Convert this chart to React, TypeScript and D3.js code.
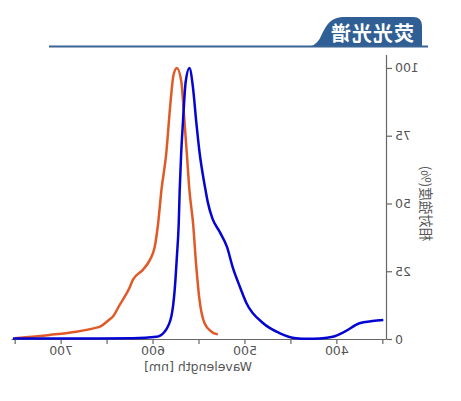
import { useEffect, useRef } from 'react';
import * as d3 from 'd3';

const width = 461;
const height = 401;

// wavelength [nm] and relative intensity [%]
const blueWave = [350, 362, 376, 392, 405, 419, 432, 445, 463, 481, 499, 506, 514, 520, 528, 536, 541, 544, 550, 553.5, 557, 561, 565, 568, 570, 571.6, 572.6, 574.6, 577, 580.7, 588, 597, 623, 660, 700, 753];
const blueValue = [7, 6.6, 5.8, 2.7, 0.8, 0.2, 0.1, 0.3, 2.2, 5.9, 13.3, 19.2, 26.6, 33.9, 39.5, 44.5, 50.5, 56, 69, 80, 92.5, 100, 95, 80, 68, 54.4, 42.7, 30.4, 18.1, 8.2, 2.7, 0.8, 0.3, 0.2, 0.2, 0.2];

const orangeWave = [530, 537, 544.5, 550, 553.5, 557, 561, 563.7, 566.3, 569.8, 574.6, 578.3, 581.8, 586.3, 591.4, 595, 598.7, 604, 611.7, 622.5, 626, 633.5, 637, 644.4, 648, 658.7, 662, 684, 713, 751];
const orangeValue = [1.7, 2.7, 5.8, 14.4, 26.7, 42.7, 55, 68, 80, 95, 100, 97.4, 86.3, 68, 55, 42.7, 34, 29.2, 25.5, 21.8, 19, 14.4, 12.5, 8.2, 7.2, 4.5, 4.2, 2.7, 1.5, 0.3];

const xTicks = [350, 400, 450, 500, 550, 600, 650, 700, 750];
const yTicks = [0, 25, 50, 75, 100];

const title = '荧光光谱';
const xLabel = 'Wavelength [nm]';
const yLabel = '相対強度(%)';

export default function App() {
  const svgRef = useRef<SVGSVGElement>(null);

  useEffect(() => {
    const svg = d3.select(svgRef.current);
    svg.selectAll('*').remove();

    // the whole picture is mirrored left-right
    const root = svg.append('g').attr('transform', `translate(${width},0) scale(-1,1)`);

    const x = d3.scaleLinear().domain([346, 754]).range([74, 449]);
    const y = d3.scaleLinear().domain([0, 105]).range([339, 54.4]);

    // header tab + rule
    const tab = d3.path();
    tab.moveTo(39, 46);
    tab.lineTo(39, 26);
    tab.quadraticCurveTo(39, 17, 48, 17);
    tab.lineTo(116, 17);
    tab.bezierCurveTo(130, 17, 134, 24, 139, 34);
    tab.quadraticCurveTo(143, 44, 150, 46);
    tab.closePath();
    root.append('path').attr('d', tab.toString()).attr('fill', '#2f5f94');
    root.append('line')
      .attr('x1', 33).attr('x2', 412)
      .attr('y1', 46.5).attr('y2', 46.5)
      .attr('stroke', '#3a6593')
      .attr('stroke-width', 2.2);
    root.append('text')
      .attr('x', 89).attr('y', 40.5)
      .attr('text-anchor', 'middle')
      .style('font-family', '"Noto Sans CJK SC", sans-serif')
      .style('font-size', '20px')
      .style('font-weight', 'bold')
      .style('letter-spacing', '1px')
      .style('fill', '#fff')
      .text(title);

    // axes
    const xAxis = root.append('g')
      .attr('transform', `translate(0,${y(0)})`)
      .call(d3.axisBottom(x).tickValues(xTicks).tickSize(5).tickPadding(2).tickSizeOuter(0)
        .tickFormat(d => (+d % 100 === 0 ? String(d) : '')));
    const yAxis = root.append('g')
      .attr('transform', `translate(${x.range()[0]},0)`)
      .call(d3.axisLeft(y).tickValues(yTicks).tickSize(5).tickPadding(3).tickSizeOuter(0));

    [xAxis, yAxis].forEach(a => {
      a.selectAll('path, line').attr('stroke', '#666').attr('stroke-width', 1.2);
      a.selectAll('text')
        .style('font-family', '"DejaVu Sans", sans-serif')
        .style('font-size', '12.5px')
        .style('fill', '#555');
    });
    xAxis.selectAll('.tick').filter(d => +d % 100 !== 0 || d === 300).select('text').remove();

    root.append('text')
      .attr('x', 263).attr('y', 371)
      .attr('text-anchor', 'middle')
      .style('font-family', '"DejaVu Sans", sans-serif')
      .style('font-size', '12.5px')
      .style('fill', '#555')
      .text(xLabel);

    root.append('text')
      .attr('transform', `translate(40,${y(50)}) rotate(-90)`)
      .attr('text-anchor', 'middle')
      .style('font-family', '"Noto Sans CJK JP", sans-serif')
      .style('font-size', '13.5px')
      .style('fill', '#555')
      .text(yLabel);

    // curves
    const line = d3.line<[number, number]>()
      .x(d => x(d[0]))
      .y(d => y(d[1]))
      .curve(d3.curveMonotoneX);

    root.append('path')
      .datum(orangeWave.map((w, i) => [w, orangeValue[i]] as [number, number]))
      .attr('d', line)
      .attr('fill', 'none')
      .attr('stroke', '#e05a28')
      .attr('stroke-width', 2.5);

    root.append('path')
      .datum(blueWave.map((w, i) => [w, blueValue[i]] as [number, number]))
      .attr('d', line)
      .attr('fill', 'none')
      .attr('stroke', '#0505d2')
      .attr('stroke-width', 2.5);
  }, []);

  return (
    <svg
      ref={svgRef}
      width={width}
      height={height}
      style={{ position: 'absolute', left: 0, top: 0, background: '#fff' }}
    />
  );
}
